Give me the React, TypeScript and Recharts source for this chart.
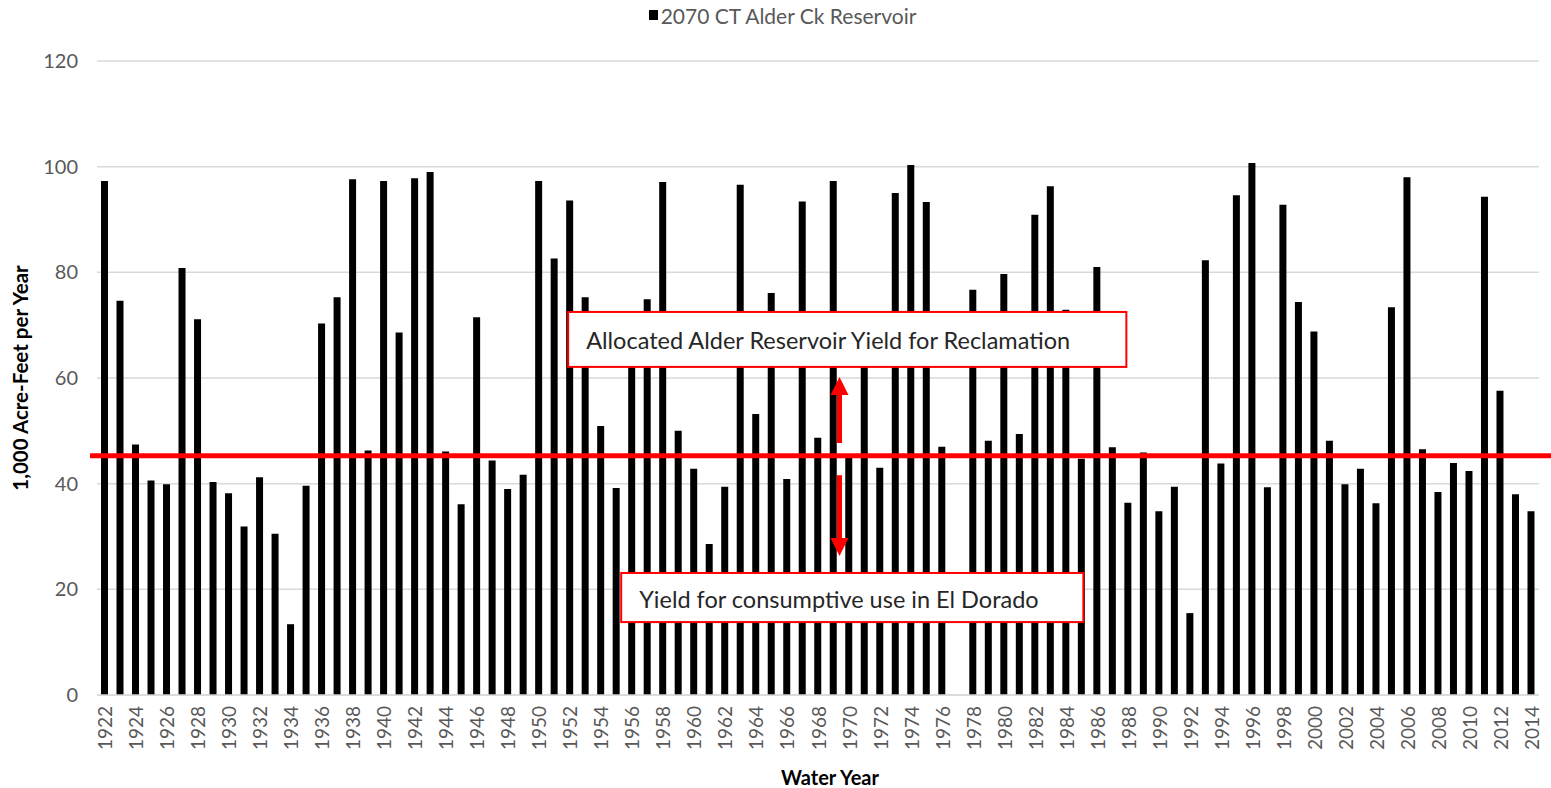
import React from "react";
import {
  Bar,
  BarChart,
  CartesianGrid,
  Label,
  Legend,
  ReferenceArea,
  ReferenceLine,
  XAxis,
  YAxis,
} from "recharts";

const years = [
  1922, 1923, 1924, 1925, 1926, 1927, 1928, 1929, 1930, 1931, 1932, 1933, 1934, 1935, 1936, 1937,
  1938, 1939, 1940, 1941, 1942, 1943, 1944, 1945, 1946, 1947, 1948, 1949, 1950, 1951, 1952, 1953,
  1954, 1955, 1956, 1957, 1958, 1959, 1960, 1961, 1962, 1963, 1964, 1965, 1966, 1967, 1968, 1969,
  1970, 1971, 1972, 1973, 1974, 1975, 1976, 1977, 1978, 1979, 1980, 1981, 1982, 1983, 1984, 1985,
  1986, 1987, 1988, 1989, 1990, 1991, 1992, 1993, 1994, 1995, 1996, 1997, 1998, 1999, 2000, 2001,
  2002, 2003, 2004, 2005, 2006, 2007, 2008, 2009, 2010, 2011, 2012, 2013, 2014,
];

// 1,000 acre-feet per year
const alderYield = [
  97.3, 74.6, 47.4, 40.6, 39.9, 80.8, 71.1, 40.3, 38.2, 31.9, 41.2, 30.5, 13.4, 39.6, 70.3, 75.3,
  97.6, 46.3, 97.3, 68.6, 97.8, 99.0, 46.1, 36.1, 71.5, 44.4, 39.0, 41.7, 97.3, 82.6, 93.6, 75.3,
  50.9, 39.2, 67.0, 74.9, 97.1, 50.0, 42.8, 28.6, 39.4, 96.6, 53.2, 76.1, 40.9, 93.4, 48.7, 97.3,
  45.2, 65.0, 43.0, 95.0, 100.3, 93.3, 47.0, 0, 76.7, 48.1, 79.7, 49.4, 90.9, 96.3, 72.9, 44.7,
  81.0, 46.9, 36.4, 45.9, 34.8, 39.4, 15.5, 82.3, 43.8, 94.6, 100.7, 39.3, 92.8, 74.4, 68.8, 48.1,
  39.9, 42.8, 36.3, 73.4, 98.0, 46.5, 38.4, 43.9, 42.4, 94.3, 57.6, 38.0, 34.8,
];

const yTicks = [0, 20, 40, 60, 80, 100, 120];
const allocatedYield = 45.3;

const seriesName = "2070 CT Alder Ck Reservoir";
const upperNote = "Allocated Alder Reservoir Yield for Reclamation";
const lowerNote = "Yield for consumptive use in El Dorado";

const data = years.map((y, i) => ({ year: String(y), value: alderYield[i] }));

const FONT = "Lato, 'Noto Sans', sans-serif";
const RED = "#ff0000";

const XTick = ({ x, y, payload }: any) => (
  <text
    x={x}
    y={y}
    transform={`rotate(-90, ${x}, ${y})`}
    textAnchor="end"
    dominantBaseline="central"
    fontFamily={FONT}
    fontSize={19}
    fill="#595959"
  >
    {payload.value}
  </text>
);

const noteBox = (text: string, dx: number, dw: number) => (p: any) => (
  <g>
    <rect
      x={p.x + dx}
      y={p.y}
      width={p.width + dw}
      height={p.height}
      fill="#ffffff"
      stroke={RED}
      strokeWidth={2}
    />
    <text
      x={p.x + dx + 18}
      y={p.y + p.height / 2 + 1}
      dominantBaseline="central"
      fontFamily={FONT}
      fontSize={23.5}
      fill="#262626"
    >
      {text}
    </text>
  </g>
);

const arrow = (p: any) => {
  const x = p.x1 + 6;
  const dir = p.y2 < p.y1 ? -1 : 1;
  const headLen = 18;
  const baseY = p.y2 - dir * headLen;
  return (
    <g>
      <line x1={x} y1={p.y1} x2={x} y2={baseY} stroke={RED} strokeWidth={5} />
      <polygon points={`${x - 9},${baseY} ${x + 9},${baseY} ${x},${p.y2}`} fill={RED} />
    </g>
  );
};

const redLine = (p: any) => (
  <line x1={p.x1 - 7} y1={p.y1} x2={p.x2 + 12} y2={p.y2} stroke={RED} strokeWidth={5} />
);

export default function App() {
  return (
    <div style={{ position: "absolute", left: 0, top: 0, width: 1551, height: 788, background: "#fff" }}>
      <BarChart
        width={1551}
        height={788}
        data={data}
        margin={{ top: 31, right: 12, bottom: 0, left: 0 }}
        barSize={7}
      >
        <CartesianGrid vertical={false} stroke="#d9d9d9" strokeWidth={1.5} />
        <Legend
          verticalAlign="top"
          wrapperStyle={{ top: 0, left: 0, width: 1551 }}
          content={() => (
            <div
              style={{
                height: 30,
                display: "flex",
                justifyContent: "center",
                alignItems: "center",
                paddingLeft: 14,
                fontFamily: FONT,
                fontSize: 21,
                color: "#595959",
              }}
            >
              <span style={{ width: 9, height: 10, background: "#000", marginRight: 3 }} />
              {seriesName}
            </div>
          )}
        />
        <XAxis
          dataKey="year"
          interval={1}
          height={93}
          tickLine={false}
          tickMargin={5}
          axisLine={{ stroke: "#d9d9d9", strokeWidth: 1.5 }}
          tick={<XTick />}
        >
          <Label
            content={({ viewBox }: any) => (
              <text
                x={viewBox.x + viewBox.width / 2 + 12}
                y={viewBox.y + viewBox.height - 3}
                textAnchor="middle"
                fontFamily={FONT}
                fontWeight="bold"
                fontSize={20}
                fill="#000"
              >
                Water Year
              </text>
            )}
          />
        </XAxis>
        <YAxis
          width={97}
          domain={[0, 120]}
          ticks={yTicks}
          tickLine={false}
          axisLine={false}
          tickMargin={13}
          tick={{ fontFamily: FONT, fontSize: 20, fill: "#595959" }}
        >
          <Label
            content={({ viewBox }: any) => {
              const cx = viewBox.x + 20;
              const cy = viewBox.y + viewBox.height / 2;
              return (
                <text
                  x={cx}
                  y={cy}
                  transform={`rotate(-90, ${cx}, ${cy})`}
                  textAnchor="middle"
                  dominantBaseline="central"
                  fontFamily={FONT}
                  fontWeight="bold"
                  fontSize={20.5}
                  fill="#000"
                >
                  1,000  Acre-Feet per Year
                </text>
              );
            }}
          />
        </YAxis>
        <Bar dataKey="value" name={seriesName} fill="#000" isAnimationActive={false} />
        <ReferenceLine y={allocatedYield} shape={redLine} zIndex={1000} />
        <ReferenceArea
          x1="1952"
          x2="1987"
          y1={62.1}
          y2={72.5}
          zIndex={1100}
          shape={noteBox(upperNote, 6, 0)}
        />
        <ReferenceArea
          x1="1956"
          x2="1985"
          y1={13.8}
          y2={23.1}
          zIndex={1100}
          shape={noteBox(lowerNote, -3, -3)}
        />
        <ReferenceLine
          segment={[
            { x: "1969", y: 47.7 },
            { x: "1969", y: 60.2 },
          ]}
          zIndex={1100}
          shape={arrow}
        />
        <ReferenceLine
          segment={[
            { x: "1969", y: 41.6 },
            { x: "1969", y: 26.3 },
          ]}
          zIndex={1100}
          shape={arrow}
        />
      </BarChart>
    </div>
  );
}
